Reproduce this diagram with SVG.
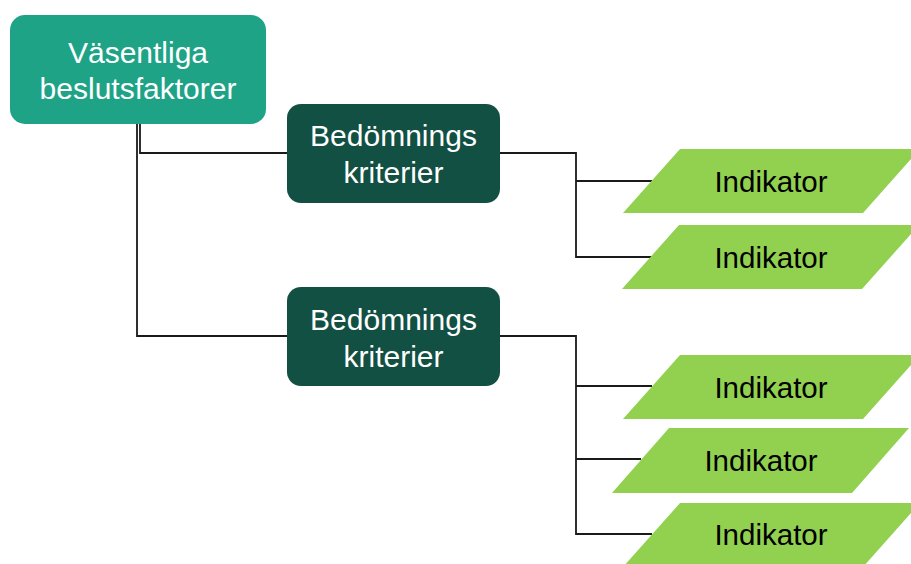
<svg xmlns="http://www.w3.org/2000/svg" width="911" height="564" viewBox="0 0 911 564">
<defs>
<style>
.t{font-family:"Liberation Sans",Arial,sans-serif;font-size:30px;text-anchor:middle}
.w{fill:#ffffff}
.k{fill:#000000;font-size:29.5px}
.top{fill:#1ea386}
.mid{fill:#125043}
.ind{fill:#92d050}
.c{fill:none;stroke:#1a1a1a;stroke-width:1.8}
</style>
</defs>
<rect width="911" height="564" fill="#ffffff"/>
<g id="connectors">
<polyline class="c" points="140,124 140,153 287,153"/>
<polyline class="c" points="137,124 137,336 287,336"/>
<polyline class="c" points="500,153 576,153 576,257 652,257"/>
<line class="c" x1="576" y1="181" x2="652" y2="181"/>
<polyline class="c" points="500,336 576,336 576,534 652,534"/>
<line class="c" x1="576" y1="386" x2="652" y2="386"/>
<line class="c" x1="576" y1="459" x2="641" y2="459"/>
</g>
<g id="n-top">
<rect class="top" x="10" y="15" width="256" height="109" rx="15"/>
<text class="t w" x="138" y="63">Väsentliga</text>
<text class="t w" x="138" y="99">beslutsfaktorer</text>
</g>
<g id="n-mid1">
<rect class="mid" x="287" y="104" width="213" height="99" rx="14"/>
<text class="t w" x="393.5" y="146">Bedömnings</text>
<text class="t w" x="393.5" y="183">kriterier</text>
</g>
<g id="n-mid2">
<rect class="mid" x="287" y="287" width="213" height="99" rx="14"/>
<text class="t w" x="393.5" y="330">Bedömnings</text>
<text class="t w" x="393.5" y="367">kriterier</text>
</g>
<g id="n-ind1">
<polygon class="ind" points="680,149 920,149 863,213 623,213"/>
<text class="t k" x="771" y="192">Indikator</text>
</g>
<g id="n-ind2">
<polygon class="ind" points="679,225 919,225 862,289 622,289"/>
<text class="t k" x="771" y="268">Indikator</text>
</g>
<g id="n-ind3">
<polygon class="ind" points="680,355 920,355 863,419 623,419"/>
<text class="t k" x="771" y="398">Indikator</text>
</g>
<g id="n-ind4">
<polygon class="ind" points="669,428 909,428 852,493 612,493"/>
<text class="t k" x="761" y="471">Indikator</text>
</g>
<g id="n-ind5">
<polygon class="ind" points="680,503 920,503 863,567 623,567"/>
<text class="t k" x="771" y="545">Indikator</text>
</g>
</svg>
